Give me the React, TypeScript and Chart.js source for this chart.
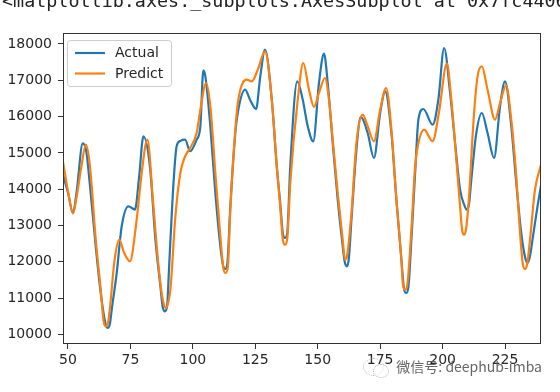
import React, { useEffect, useRef } from "react";
import { Chart, registerables } from "chart.js";

Chart.register(...registerables);

const headerText = "<matplotlib.axes._subplots.AxesSubplot at 0x7fc4406d0";
const watermarkText = "微信号: deephub-imba";
const seriesNames = ["Actual", "Predict"];
const seriesColors = ["#1f77b4", "#ff7f0e"];

const xTicks = [50, 75, 100, 125, 150, 175, 200, 225];
const yTicks = [10000, 11000, 12000, 13000, 14000, 15000, 16000, 17000, 18000];

const actualX = [48, 50, 52, 53.5, 55.9, 57.3, 58.8, 61, 63, 65.0, 65.9, 66.8, 67.5, 69.5, 71.5, 74.2, 76.8, 78.5, 80.2, 82.8, 85, 87, 87.9, 88.8, 89.7, 90.5, 92, 93.5, 95, 96.9, 98.9, 101.5, 103, 104.2, 105, 107, 109, 111, 112, 112.9, 113.8, 115, 117, 118.2, 120.9, 123, 125.3, 127, 128.9, 131.6, 133.6, 135, 136, 136.9, 137.8, 139, 141.8, 144, 146, 148.2, 150.5, 152.5, 154, 156, 158, 160, 160.8, 161.6, 162.4, 163.5, 165.5, 167.2, 170, 172.5, 175, 177, 179.5, 181.5, 183.5, 184.5, 185.4, 186.3, 187.5, 189, 190.3, 192.3, 196, 198.3, 200.6, 203, 205, 207, 208.7, 209.7, 210.6, 211.5, 213.5, 215.7, 218, 220.6, 223, 225, 227.5, 229.5, 231.5, 233.1, 234, 234.9, 236, 238, 239.4];
const actualY = [14400, 13900, 13340, 13950, 15260, 15050, 14100, 12500, 11200, 10300, 10174, 10300, 10677, 11689, 12977, 13528, 13435, 14354, 15457, 14629, 12607, 11322, 10760, 10634, 10800, 11873, 13894, 15181, 15330, 15363, 15044, 15363, 15732, 17275, 17110, 15732, 13894, 12424, 11930, 11800, 11950, 13527, 15547, 16190, 16741, 16450, 16209, 17110, 17843, 16465, 14629, 13600, 12800, 12654, 12800, 14629, 16972, 16465, 15732, 15319, 16925, 17733, 16925, 15272, 13710, 12424, 12000, 11874, 12050, 13157, 15088, 15988, 15547, 14859, 16098, 16697, 15547, 13710, 12055, 11280, 11139, 11300, 12607, 14445, 15914, 16209, 15777, 16465, 17890, 16650, 15272, 13985, 13560, 13435, 13600, 14261, 15547, 16099, 15547, 14859, 16283, 16972, 15732, 14169, 12791, 12100, 11965, 12120, 12607, 13527, 14100];

const predictX = [48, 50, 52, 53.5, 55.3, 57.2, 58.8, 61, 63, 64.3, 65.2, 66.1, 67, 68.5, 70.5, 72.5, 74.8, 77.5, 79.5, 81.8, 84, 86, 87.5, 88.3, 89.2, 90.1, 91, 93, 95, 96.9, 98.9, 101.5, 103, 105.3, 107, 109, 111, 112.2, 113.1, 114, 115, 117, 118.2, 121.6, 123.6, 126, 128.9, 131.6, 133.6, 135, 136, 136.9, 137.8, 139, 142, 144.2, 146.5, 148.5, 150.5, 152.9, 154.5, 156, 158, 160, 160.9, 161.8, 163.5, 165.5, 168, 170, 172.5, 175, 177.4, 179.5, 181.5, 183.5, 184.1, 185, 185.9, 187.5, 189, 190.3, 192.6, 196, 198.5, 201.7, 203.5, 205.5, 207, 207.8, 208.6, 209.4, 210.5, 212.5, 214, 215.7, 218, 221, 223, 225.4, 227.5, 229.5, 231, 232.1, 233, 233.9, 235, 237, 239.4];
const predictY = [14750, 13950, 13330, 13800, 14600, 15225, 14629, 12700, 11300, 10350, 10220, 10350, 10862, 11964, 12608, 12240, 12012, 13157, 14445, 15363, 13710, 12055, 11138, 10850, 10725, 10870, 11228, 13250, 14445, 14906, 15134, 15548, 16190, 16925, 16283, 14445, 12700, 11830, 11690, 11850, 13435, 15640, 16465, 17016, 16972, 17292, 17798, 16465, 14629, 13500, 12620, 12470, 12640, 14170, 16465, 17476, 16741, 16264, 16650, 17063, 16465, 15363, 13894, 12607, 12057, 12180, 13340, 15272, 16052, 15732, 15319, 16190, 16788, 15640, 13710, 12055, 11380, 11230, 11380, 12883, 14629, 15272, 15639, 15319, 16098, 17457, 16465, 14812, 13527, 12880, 12745, 12900, 13710, 16007, 17110, 17385, 16741, 15914, 16374, 16851, 15914, 14353, 12791, 11950, 11800, 11950, 12607, 13985, 14674];

const FONT = "'DejaVu Sans', sans-serif";
const TEXT_COLOR = "#262626";

const framePlugin = {
  id: "frameAndLegend",
  afterDatasetsDraw(chart: any) {
    const { ctx, chartArea: a } = chart;
    ctx.save();
    ctx.strokeStyle = "#333";
    ctx.lineWidth = 1;
    ctx.strokeRect(a.left + 0.5, a.top + 0.5, a.right - a.left - 1, a.bottom - a.top - 1);

    // legend box
    const bx = 67.5, by = 40.5, bw = 104, bh = 46, r = 3;
    ctx.beginPath();
    ctx.moveTo(bx + r, by);
    ctx.lineTo(bx + bw - r, by);
    ctx.arcTo(bx + bw, by, bx + bw, by + r, r);
    ctx.lineTo(bx + bw, by + bh - r);
    ctx.arcTo(bx + bw, by + bh, bx + bw - r, by + bh, r);
    ctx.lineTo(bx + r, by + bh);
    ctx.arcTo(bx, by + bh, bx, by + bh - r, r);
    ctx.lineTo(bx, by + r);
    ctx.arcTo(bx, by, bx + r, by, r);
    ctx.closePath();
    ctx.fillStyle = "rgba(255,255,255,0.8)";
    ctx.fill();
    ctx.strokeStyle = "#cccccc";
    ctx.stroke();

    const rows = [53, 73.5];
    seriesNames.forEach((name, i) => {
      ctx.strokeStyle = seriesColors[i];
      ctx.lineWidth = 2.2;
      ctx.beginPath();
      ctx.moveTo(75, rows[i]);
      ctx.lineTo(105, rows[i]);
      ctx.stroke();
      ctx.fillStyle = TEXT_COLOR;
      ctx.font = `14px ${FONT}`;
      ctx.textBaseline = "middle";
      ctx.textAlign = "left";
      ctx.fillText(name, 115, rows[i] + 0.5);
    });
    ctx.restore();
  },
};

export default function App() {
  const ref = useRef<HTMLCanvasElement | null>(null);

  useEffect(() => {
    if (!ref.current) return;
    const toPts = (xs: number[], ys: number[]) => xs.map((x, i) => ({ x, y: ys[i] }));
    const tickFont = { family: FONT, size: 14 };
    const chart = new Chart(ref.current, {
      type: "line",
      data: {
        datasets: [
          {
            label: seriesNames[0],
            data: toPts(actualX, actualY),
            borderColor: seriesColors[0],
            borderWidth: 2.2,
            pointRadius: 0,
            cubicInterpolationMode: "monotone",
            fill: false,
            order: 2,
          },
          {
            label: seriesNames[1],
            data: toPts(predictX, predictY),
            borderColor: seriesColors[1],
            borderWidth: 2.2,
            pointRadius: 0,
            cubicInterpolationMode: "monotone",
            fill: false,
            order: 1,
          },
        ],
      },
      options: {
        animation: false,
        responsive: false,
        devicePixelRatio: 1,
        layout: { padding: { left: 0, right: 19, top: 33, bottom: 0 } },
        plugins: { legend: { display: false }, tooltip: { enabled: false } },
        scales: {
          x: {
            type: "linear",
            min: 48,
            max: 239.4,
            afterBuildTicks: (s: any) => {
              s.ticks = xTicks.map((v) => ({ value: v }));
            },
            afterFit: (s: any) => {
              s.height = 48;
            },
            ticks: {
              autoSkip: false,
              maxRotation: 0,
              padding: 3,
              font: tickFont,
              color: TEXT_COLOR,
              callback: (v: any) => String(v),
            },
            grid: { display: true, drawOnChartArea: false, drawTicks: true, tickLength: 5, color: "#333", lineWidth: 1 },
            border: { display: false },
          },
          y: {
            type: "linear",
            min: 9733,
            max: 18303,
            afterBuildTicks: (s: any) => {
              s.ticks = yTicks.map((v) => ({ value: v }));
            },
            afterFit: (s: any) => {
              s.width = 63;
            },
            ticks: {
              autoSkip: false,
              padding: 6,
              font: tickFont,
              color: TEXT_COLOR,
              callback: (v: any) => String(v),
            },
            grid: { display: true, drawOnChartArea: false, drawTicks: true, tickLength: 5, color: "#333", lineWidth: 1 },
            border: { display: false },
          },
        },
      },
      plugins: [framePlugin],
    } as any);
    return () => chart.destroy();
  }, []);

  return (
    <div style={{ position: "fixed", left: 0, top: 0, width: 560, height: 392, overflow: "hidden", background: "#fff" }}>
      <canvas ref={ref} width={560} height={392} style={{ position: "absolute", left: 0, top: 0, display: "block" }} />
      <div
        style={{
          position: "absolute",
          left: 2,
          top: -10.4,
          fontFamily: "'DejaVu Sans Mono', monospace",
          fontSize: 18.4,
          lineHeight: "22px",
          color: "#222",
          whiteSpace: "nowrap",
        }}
      >
        {headerText}
      </div>
      <div style={{ position: "absolute", left: 363, top: 358, width: 19, height: 16, borderRadius: "50%", border: "1px dotted #b0b0b0" }} />
      <div style={{ position: "absolute", left: 373, top: 364, width: 14, height: 12, borderRadius: "50%", border: "1px dotted #b0b0b0", background: "rgba(255,255,255,0.6)" }} />
      <div
        style={{
          position: "absolute",
          right: 18,
          top: 357,
          fontFamily: "'Noto Sans CJK SC', 'DejaVu Sans', sans-serif",
          fontSize: 14,
          lineHeight: "18px",
          color: "rgba(85,85,85,0.9)",
          whiteSpace: "nowrap",
        }}
      >
        {watermarkText}
      </div>
    </div>
  );
}
